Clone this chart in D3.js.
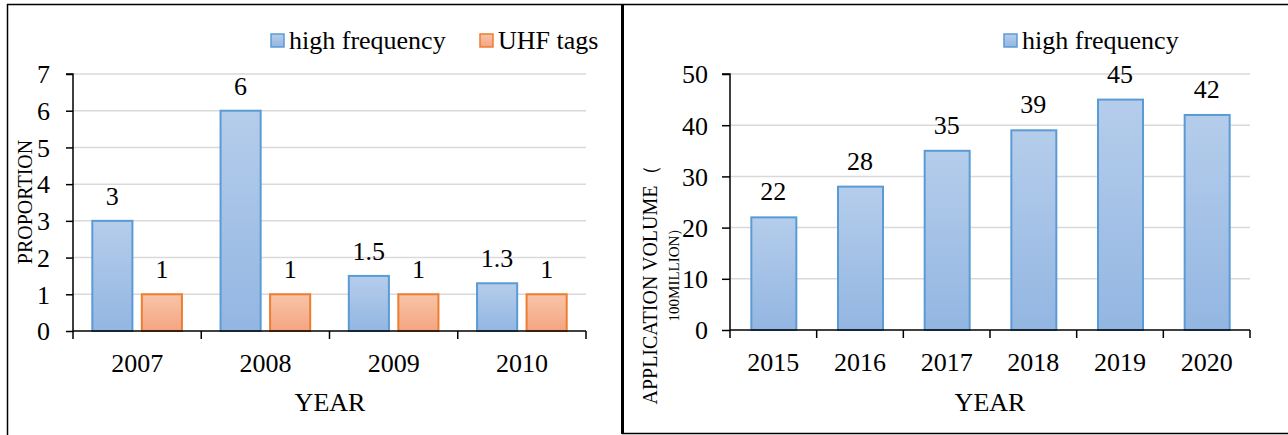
<!DOCTYPE html>
<html><head><meta charset="utf-8">
<script src="https://cdn.jsdelivr.net/npm/d3@7"></script>
<style>
html,body{margin:0;padding:0;background:#fff;}
svg{display:block;font-family:"Liberation Serif","Times New Roman",serif;}
</style></head>
<body>
<svg id="c" width="1288" height="435"></svg>
<script>
// ---- data ----
const leftYears = ["2007","2008","2009","2010"];
const leftSeries = ["high frequency","UHF tags"];
const highFreqLeft = [3, 6, 1.5, 1.3];
const uhfTags = [1, 1, 1, 1];
const leftTicks = [0,1,2,3,4,5,6,7];

const rightYears = ["2015","2016","2017","2018","2019","2020"];
const highFreqRight = [22, 28, 35, 39, 45, 42];
const rightTicks = [0,10,20,30,40,50];

const FS = 26;
const svg = d3.select("#c");
const defs = svg.append("defs");
function grad(id, c1, c2){
  const g = defs.append("linearGradient").attr("id",id).attr("x1",0).attr("y1",0).attr("x2",0).attr("y2",1);
  g.append("stop").attr("offset","0%").attr("stop-color",c1);
  g.append("stop").attr("offset","100%").attr("stop-color",c2);
}
grad("gBlue","#b5cdeb","#93b6e2");
grad("gOrange","#f8c4a8","#f4a581");
const fills = ["url(#gBlue)","url(#gOrange)"];
const strokes = ["#5b9bd5","#ed7d31"];

// frame lines
svg.append("line").attr("x1",7).attr("x2",1288).attr("y1",4.5).attr("y2",4.5).attr("stroke","#000").attr("stroke-width",1.5);
svg.append("line").attr("x1",7.5).attr("x2",7.5).attr("y1",4).attr("y2",435).attr("stroke","#000").attr("stroke-width",1.5);
svg.append("line").attr("x1",622.5).attr("x2",622.5).attr("y1",4).attr("y2",434).attr("stroke","#000").attr("stroke-width",3);
svg.append("line").attr("x1",622).attr("x2",1288).attr("y1",433.5).attr("y2",433.5).attr("stroke","#000").attr("stroke-width",1.5);

function grid(g, y, ticks, x0, x1){
  g.selectAll(".grid").data(ticks.filter(t=>t>0)).join("line")
    .attr("x1",x0).attr("x2",x1).attr("y1",d=>y(d)).attr("y2",d=>y(d))
    .attr("stroke","#d9d9d9").attr("stroke-width",1.5);
}
function axisLines(g, x, y, ticks, x0, x1, tickLen, labelRight){
  const yAxis = d3.axisLeft(y).tickValues(ticks).tickSize(tickLen).tickPadding(0).tickFormat(d3.format("d"));
  const ya = g.append("g").attr("transform",`translate(${x0},0)`).call(yAxis);
  ya.select(".domain").attr("stroke","#000").attr("stroke-width",1.5).attr("d",`M${-tickLen},${y(ticks[ticks.length-1])}H0V${y(0)}`);
  ya.selectAll(".tick line").attr("stroke","#000").attr("stroke-width",1.5);
  ya.selectAll(".tick text").attr("font-size",FS).attr("font-family","Liberation Serif").attr("fill","#000")
    .attr("x",labelRight - x0).attr("dy","0.34em");
  const xAxis = d3.axisBottom(x).tickSize(0).tickPadding(0);
  const xa = g.append("g").attr("transform",`translate(0,${y(0)})`).call(xAxis);
  xa.select(".domain").remove();
  xa.selectAll(".tick text").attr("font-size",FS).attr("font-family","Liberation Serif").attr("fill","#000").attr("y",41).attr("dy",0);
  const edges = x.domain().map(d=>x(d)).concat([x1]);
  g.selectAll(".ctick").data(edges).join("line").attr("class","ctick")
    .attr("x1",d=>d).attr("x2",d=>d).attr("y1",y(0)).attr("y2",y(0)+8)
    .attr("stroke","#000").attr("stroke-width",1.5);
  g.append("line").attr("x1",x0).attr("x2",x1).attr("y1",y(0)).attr("y2",y(0)).attr("stroke","#000").attr("stroke-width",1.5);
}

// ---- left chart ----
{
  const g = svg.append("g");
  const x0=73, x1=586, yTop=74, yBot=331;
  const x = d3.scaleBand().domain(leftYears).range([x0,x1]).padding(0);
  const y = d3.scaleLinear().domain([0,7]).range([yBot,yTop]);
  const xs = d3.scaleBand().domain(leftSeries).range([0,x.bandwidth()]).paddingInner(0.19).paddingOuter(0.39);
  grid(g,y,leftTicks,x0,x1);
  const vals = [highFreqLeft, uhfTags];
  leftSeries.forEach((s,si)=>{
    const data = leftYears.map((yr,i)=>({yr, v: vals[si][i]}));
    g.selectAll(".bar"+si).data(data).join("rect")
      .attr("x",d=>x(d.yr)+xs(s)).attr("width",xs.bandwidth())
      .attr("y",d=>y(d.v)).attr("height",d=>y(0)-y(d.v))
      .attr("fill",fills[si]).attr("stroke",strokes[si]).attr("stroke-width",2);
    g.selectAll(".lab"+si).data(data).join("text")
      .attr("x",d=>x(d.yr)+xs(s)+xs.bandwidth()/2).attr("y",d=>y(d.v)-16)
      .attr("text-anchor","middle").attr("font-size",FS).text(d=>d.v);
  });
  axisLines(g,x,y,leftTicks,x0,x1,7,50);
  g.append("text").attr("transform",`translate(32,202) rotate(-90)`).attr("text-anchor","middle").attr("font-size",20).text("PROPORTION");
  g.append("text").attr("x",330).attr("y",411).attr("text-anchor","middle").attr("font-size",FS).text("YEAR");
  const leg = [{s:leftSeries[0],x:270},{s:leftSeries[1],x:479}];
  leg.forEach((l,i)=>{
    g.append("rect").attr("x",l.x+1).attr("y",34).attr("width",13).attr("height",13)
      .attr("fill",fills[i]).attr("stroke",strokes[i]).attr("stroke-width",1.5);
    g.append("text").attr("x",l.x+19).attr("y",49).attr("font-size",FS).text(l.s);
  });
}

// ---- right chart ----
{
  const g = svg.append("g");
  const x0=730, x1=1250, yTop=74, yBot=330;
  const x = d3.scaleBand().domain(rightYears).range([x0,x1]).padding(0);
  const y = d3.scaleLinear().domain([0,50]).range([yBot,yTop]);
  const bw = 45;
  grid(g,y,rightTicks,x0,x1);
  const data = rightYears.map((yr,i)=>({yr, v: highFreqRight[i]}));
  g.selectAll(".bar").data(data).join("rect")
    .attr("x",d=>x(d.yr)+(x.bandwidth()-bw)/2+0.5).attr("width",bw)
    .attr("y",d=>y(d.v)).attr("height",d=>y(0)-y(d.v))
    .attr("fill",fills[0]).attr("stroke",strokes[0]).attr("stroke-width",2);
  g.selectAll(".lab").data(data).join("text")
    .attr("x",d=>x(d.yr)+x.bandwidth()/2).attr("y",d=>y(d.v)-17)
    .attr("text-anchor","middle").attr("font-size",FS).text(d=>d.v);
  axisLines(g,x,y,rightTicks,x0,x1,8,708);
  g.append("text").attr("transform",`translate(657,285) rotate(-90)`).attr("text-anchor","middle").attr("font-size",20).text("APPLICATION VOLUME（");
  g.append("text").attr("transform",`translate(679,271) rotate(-90)`).attr("text-anchor","middle").attr("font-size",15).text("100MILLION）");
  g.append("text").attr("x",990).attr("y",411).attr("text-anchor","middle").attr("font-size",FS).text("YEAR");
  g.append("rect").attr("x",1004).attr("y",34).attr("width",13).attr("height",13)
    .attr("fill",fills[0]).attr("stroke",strokes[0]).attr("stroke-width",1.5);
  g.append("text").attr("x",1022).attr("y",49).attr("font-size",FS).text("high frequency");
}
</script>
</body></html>
